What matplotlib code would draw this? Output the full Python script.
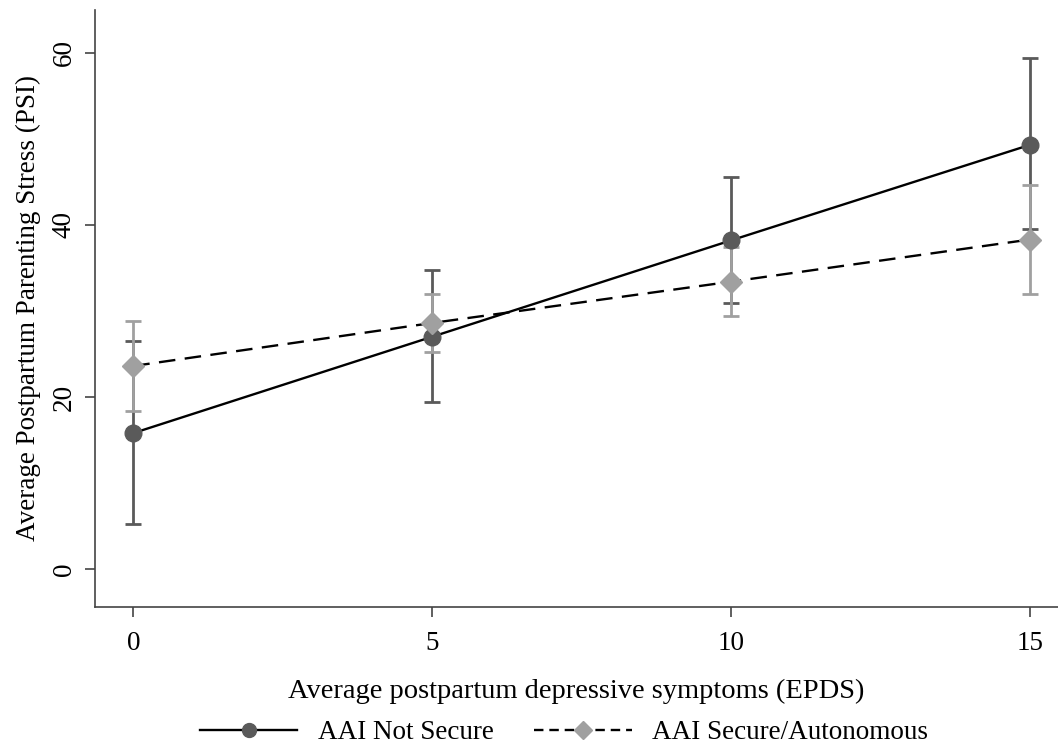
import matplotlib.pyplot as plt
import numpy as np

plt.rcParams['font.family'] = ['Liberation Serif', 'DejaVu Serif']

x = [0, 5, 10, 15]
not_secure = [15.8, 27.0, 38.2, 49.3]
not_secure_lo = [5.2, 19.4, 30.9, 39.5]
not_secure_hi = [26.5, 34.8, 45.6, 59.4]
secure = [23.6, 28.6, 33.4, 38.3]
secure_lo = [18.4, 25.2, 29.4, 32.0]
secure_hi = [28.8, 32.0, 37.4, 44.6]

dark = '#5a5a5a'
light = '#a0a0a0'
spine = '#444444'
fs = 19.5

fig = plt.figure(figsize=(10.58, 7.53), dpi=100)
ax = fig.add_axes([0.0898, 0.194, 0.9102, 0.793])

ns = np.array(not_secure)
se = np.array(secure)
ax.errorbar(x, ns, yerr=[ns - np.array(not_secure_lo), np.array(not_secure_hi) - ns],
            fmt='none', ecolor=dark, elinewidth=2, capsize=6, capthick=2, zorder=2)
ax.errorbar(x, se, yerr=[se - np.array(secure_lo), np.array(secure_hi) - se],
            fmt='none', ecolor=light, elinewidth=2, capsize=6, capthick=2, zorder=2)
ax.plot(x, ns, color='black', lw=1.7, zorder=3)
ax.plot(x, se, color='black', lw=1.7, ls=(0, (7, 4)), zorder=3)
ax.plot(x, ns, 'o', color=dark, ms=12, zorder=4)
ax.plot(x, se, 'D', color=light, ms=11.5, zorder=4)

h1, = ax.plot([], [], color='black', lw=1.7, marker='o', mfc=dark, mec=dark, ms=10)
h2, = ax.plot([], [], color='black', lw=1.7, ls=(0, (4, 2.5)), marker='D', mfc=light, mec=light, ms=9)

ax.set_xlim(-0.64, 15.47)
ax.set_ylim(-4.4, 65)
ax.set_xticks([0, 5, 10, 15])
ax.set_yticks([0, 20, 40, 60])
ax.tick_params(labelsize=fs, length=7, width=1.2, color=spine)
ax.tick_params(axis='x', pad=10)
ax.tick_params(axis='y', pad=6)
for lab in ax.get_yticklabels():
    lab.set_rotation(90)
    lab.set_va('center')
ax.spines['top'].set_visible(False)
ax.spines['right'].set_visible(False)
for s in ['left', 'bottom']:
    ax.spines[s].set_color(spine)
    ax.spines[s].set_linewidth(1.2)
ax.set_xlabel('Average postpartum depressive symptoms (EPDS)', fontsize=20.5, labelpad=17)
ax.set_ylabel('Average Postpartum Parenting Stress (PSI)', fontsize=fs, labelpad=8)

fig.legend([h1, h2], ['AAI Not Secure', 'AAI Secure/Autonomous'], loc='lower center',
           bbox_to_anchor=(0.533, -0.022), ncol=2, frameon=False, fontsize=fs,
           handlelength=3.6, handletextpad=0.75, columnspacing=1.5)

fig.savefig('out.png', dpi=100)
